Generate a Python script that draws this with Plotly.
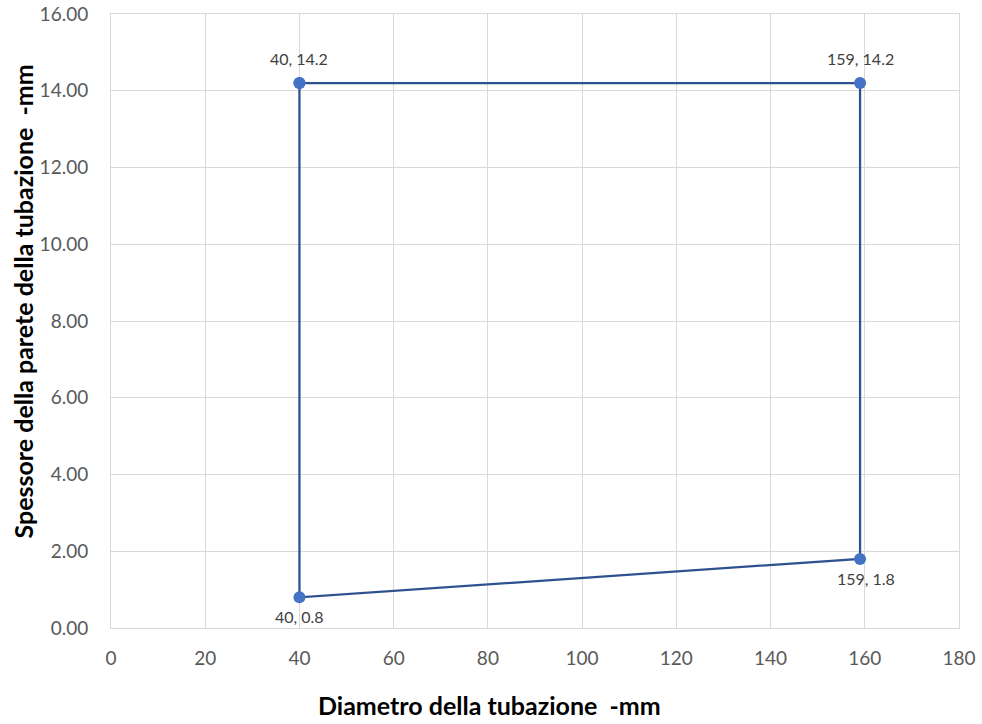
import plotly.graph_objects as go

x_vals = [40, 159, 159, 40, 40]
y_vals = [14.2, 14.2, 1.8, 0.8, 14.2]

label_x = [40, 159, 159, 40]
label_y = [14.2, 14.2, 1.8, 0.8]
labels = ["40, 14.2", "159, 14.2", "159, 1.8", "40, 0.8"]

x_ticks = [0, 20, 40, 60, 80, 100, 120, 140, 160, 180]
y_ticks = [0, 2, 4, 6, 8, 10, 12, 14, 16]

x_title = "Diametro della tubazione\u00a0\u00a0-mm"
y_title = "Spessore della parete della tubazione\u00a0\u00a0-mm"

# label offsets (pixels) — styling only
label_shift_y = [25, 25, -20, -19]
label_shift_x = [0, 0, 6, 0]

font_family = "Lato, 'Open Sans', sans-serif"

fig = go.Figure()
fig.add_trace(go.Scatter(
    x=x_vals, y=y_vals, mode="lines+markers",
    line=dict(color="#2F528F", width=2.25),
    marker=dict(color="#4472C4", size=12),
    cliponaxis=False, showlegend=False, hoverinfo="x+y",
))

for lx, ly, lt, sx, sy in zip(label_x, label_y, labels, label_shift_x, label_shift_y):
    fig.add_annotation(x=lx, y=ly, text=lt, showarrow=False,
                       xshift=sx, yshift=sy, xanchor="center", yanchor="middle",
                       font=dict(family=font_family, size=16, color="#404040"))

fig.add_annotation(xref="paper", yref="paper", x=(489.5 - 111) / 848, y=-(705 - 628) / 614,
                   text=f"<b>{x_title}</b>", showarrow=False,
                   xanchor="center", yanchor="middle",
                   font=dict(family=font_family, size=25, color="black"))
fig.add_annotation(xref="paper", yref="paper", x=-(111 - 22) / 848, y=(628 - 301.5) / 614,
                   text=f"<b>{y_title}</b>", showarrow=False, textangle=-90,
                   xanchor="center", yanchor="middle",
                   font=dict(family=font_family, size=25, color="black"))

fig.update_layout(
    width=982, height=724,
    margin=dict(l=111, r=23, t=14, b=96),
    paper_bgcolor="white", plot_bgcolor="white",
    font=dict(family=font_family),
)
fig.update_xaxes(
    range=[0, 180], tickvals=x_ticks, ticktext=[str(v) for v in x_ticks],
    showgrid=True, gridcolor="#D9D9D9", gridwidth=1,
    showline=True, linecolor="#D9D9D9", mirror=True, zeroline=False,
    tickfont=dict(size=19, color="#595959"), ticklabelstandoff=13,
    automargin=False,
)
fig.update_yaxes(
    range=[0, 16], tickvals=y_ticks, ticktext=[f"{v:.2f}" for v in y_ticks],
    showgrid=True, gridcolor="#D9D9D9", gridwidth=1,
    showline=True, linecolor="#D9D9D9", mirror=True, zeroline=False,
    tickfont=dict(size=19, color="#595959"), ticklabelstandoff=18,
    automargin=False,
)

fig.write_html("out.html")
